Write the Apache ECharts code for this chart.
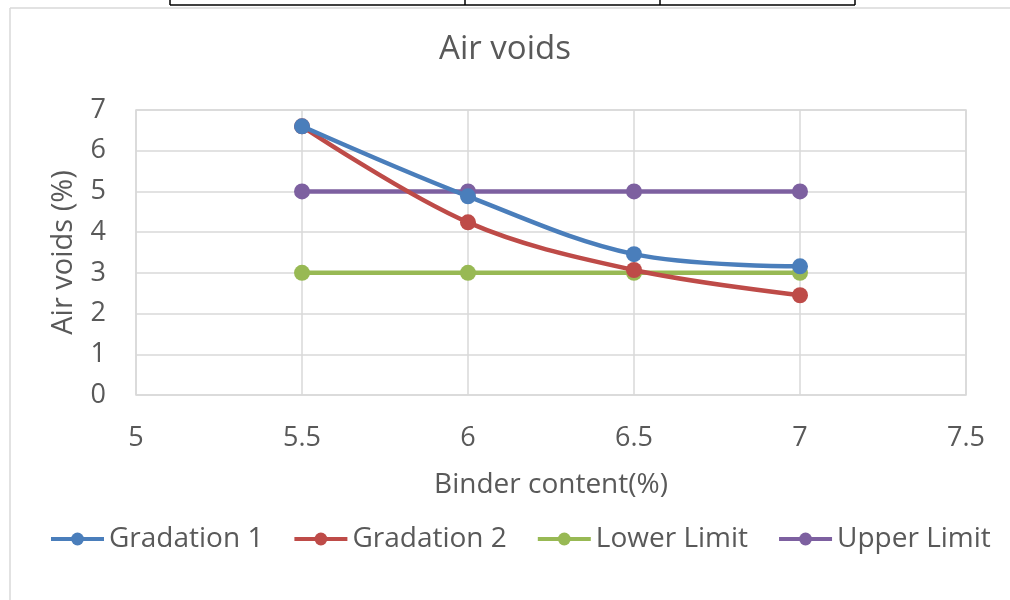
<!DOCTYPE html>
<html><head><meta charset="utf-8">
<script src="https://cdn.jsdelivr.net/npm/echarts@6/dist/echarts.min.js"></script>
<style>html,body{margin:0;padding:0;background:#fff}#c{width:1010px;height:600px}</style>
</head><body><div id="c"></div>
<script>
const binder = [5.5, 6, 6.5, 7];
const gradation1 = [6.6, 4.88, 3.46, 3.16];
const gradation2 = [6.6, 4.24, 3.07, 2.45];
const lowerLimit = [3, 3, 3, 3];
const upperLimit = [5, 5, 5, 5];
const seriesNames = ['Gradation 1', 'Gradation 2', 'Lower Limit', 'Upper Limit'];
const colors = ['#4a7ebb', '#be4b48', '#98b954', '#7d60a0'];

const font = '"Open Sans", sans-serif';
const chart = echarts.init(document.getElementById('c'));
const pair = arr => binder.map((b, i) => [b, arr[i]]);
const dataSets = [gradation1, gradation2, lowerLimit, upperLimit];
chart.setOption({
  animation: false,
  title: { text: 'Air voids', left: 'center', top: 28, textStyle: { fontFamily: font, fontSize: 33, fontWeight: 'normal', color: '#595959' } },
  grid: { left: 136, right: 44, top: 110, bottom: 205, show: true, borderColor: '#d9d9d9', borderWidth: 1.5 },
  legend: {
    bottom: 42, left: 44, itemGap: 29, itemWidth: 53, itemHeight: 16,
    lineStyle: { width: 4 },
    textStyle: { fontFamily: font, fontSize: 28, color: '#595959' },
    data: seriesNames
  },
  xAxis: {
    type: 'value', min: 5, max: 7.5, interval: 0.5,
    name: 'Binder content(%)', nameLocation: 'middle', nameGap: 76,
    nameTextStyle: { fontFamily: font, fontSize: 28, color: '#595959' },
    axisLine: { show: false }, axisTick: { show: false },
    axisLabel: { fontFamily: font, fontSize: 27, color: '#595959', margin: 30 },
    splitLine: { show: true, lineStyle: { color: '#d9d9d9', width: 1.5 } }
  },
  yAxis: {
    type: 'value', min: 0, max: 7, interval: 1,
    name: 'Air voids (%)', nameLocation: 'middle', nameGap: 58, nameRotate: 90,
    nameTextStyle: { fontFamily: font, fontSize: 29, color: '#595959' },
    axisLine: { show: false }, axisTick: { show: false },
    axisLabel: { fontFamily: font, fontSize: 27, color: '#595959', margin: 30 },
    splitLine: { show: true, lineStyle: { color: '#d9d9d9', width: 1.5 } }
  },
  series: seriesNames.map((n, i) => ({
    name: n, type: 'line', data: pair(dataSets[i]), smooth: i < 2 ? 0.35 : false,
    symbol: 'circle', symbolSize: 16, z: 10 - i,
    lineStyle: { color: colors[i], width: 4.5 }, itemStyle: { color: colors[i] }
  })),
  graphic: [
    { type: 'line', shape: { x1: 10, y1: 8, x2: 1010, y2: 8 }, style: { stroke: '#d9d9d9', lineWidth: 1.5 } },
    { type: 'line', shape: { x1: 10, y1: 8, x2: 10, y2: 600 }, style: { stroke: '#d9d9d9', lineWidth: 1.5 } },
    { type: 'line', shape: { x1: 170, y1: 5, x2: 855, y2: 5 }, style: { stroke: '#000', lineWidth: 1.5 } },
    { type: 'line', shape: { x1: 170, y1: 0, x2: 170, y2: 5 }, style: { stroke: '#000', lineWidth: 1.5 } },
    { type: 'line', shape: { x1: 465, y1: 0, x2: 465, y2: 5 }, style: { stroke: '#000', lineWidth: 1.5 } },
    { type: 'line', shape: { x1: 660, y1: 0, x2: 660, y2: 5 }, style: { stroke: '#000', lineWidth: 1.5 } },
    { type: 'line', shape: { x1: 855, y1: 0, x2: 855, y2: 5 }, style: { stroke: '#000', lineWidth: 1.5 } }
  ]
});
</script></body></html>
